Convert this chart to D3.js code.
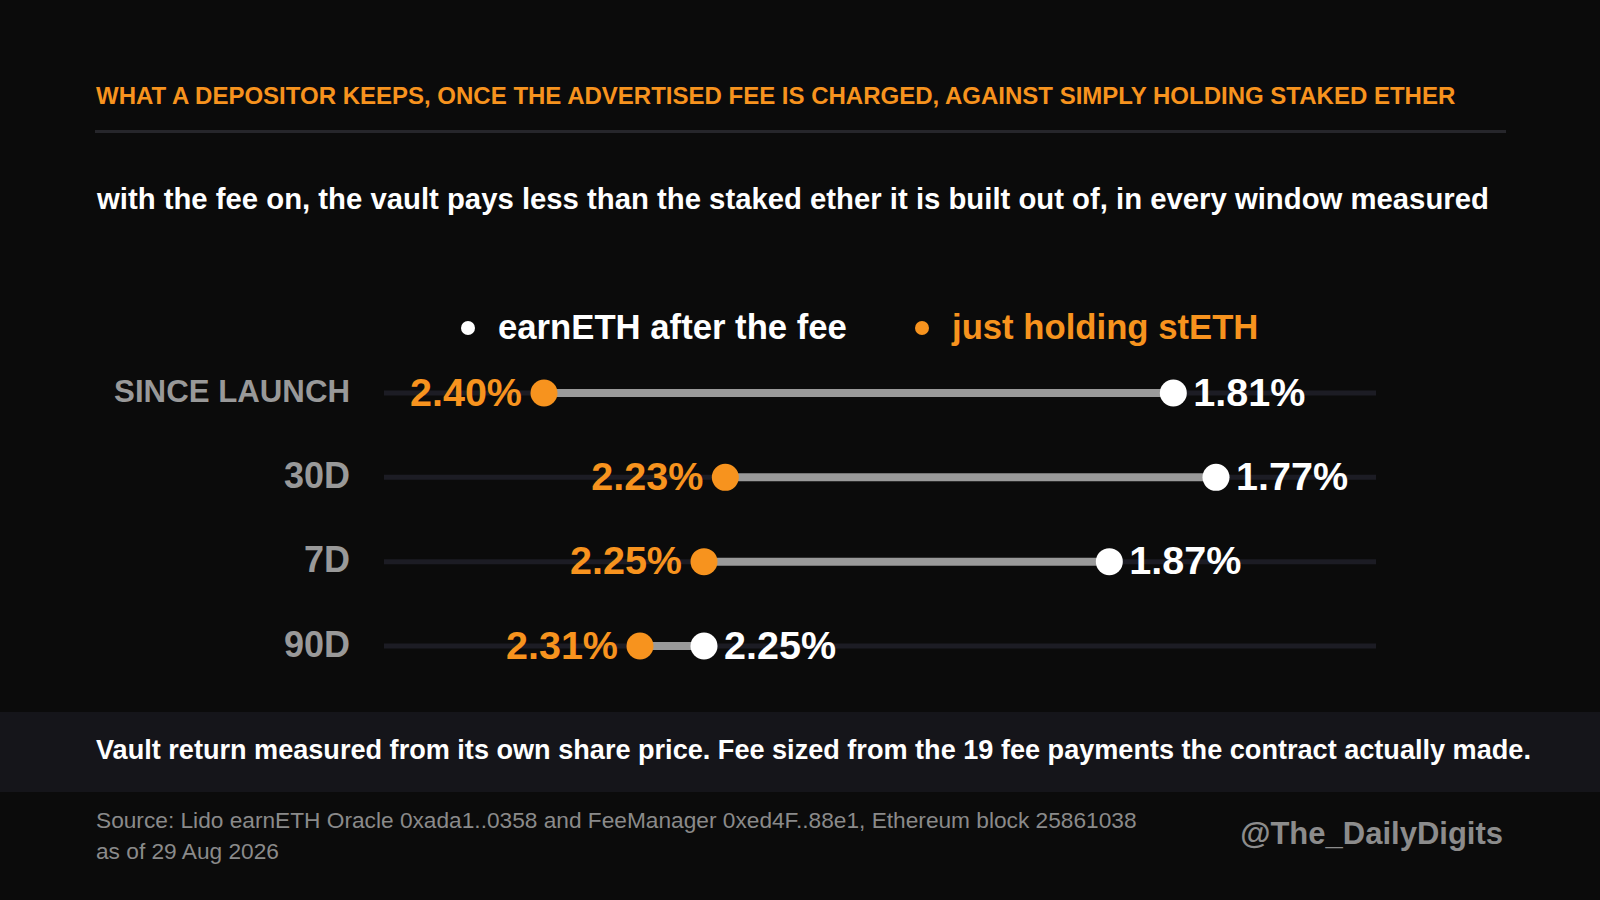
<!DOCTYPE html>
<html lang="en">
<head>
<meta charset="utf-8">
<script src="https://cdn.jsdelivr.net/npm/d3@7"></script>
<style>
body{margin:0;background:#0b0b0b;}
svg{display:block;}
text{font-family:"Liberation Sans",Arial,sans-serif;}
</style>
</head>
<body>
<div id="chart"></div>
<script>
// data
const windows=["SINCE LAUNCH","30D","7D","90D"]
const vaultAfterFee=[1.81,1.77,1.87,2.25]
const holdStETH=[2.40,2.23,2.25,2.31]
const seriesNames=["earnETH after the fee","just holding stETH"]

const W=1600,H=900
const orange="#f7931e",white="#ffffff",grey="#999999"

const rows=windows.map((w,i)=>({name:w,vault:vaultAfterFee[i],hold:holdStETH[i]}))
const lo=d3.min(vaultAfterFee),hi=d3.max(holdStETH)

svg=d3.select("#chart").append("svg").attr("width",W).attr("height",H)
svg.append("rect").attr("width",W).attr("height",H).attr("fill","#0b0b0b")

// header
svg.append("text").attr("x",96).attr("y",104).text("WHAT A DEPOSITOR KEEPS, ONCE THE ADVERTISED FEE IS CHARGED, AGAINST SIMPLY HOLDING STAKED ETHER")
  .style("font-size","24px").style("font-weight","bold").style("fill",orange)
svg.append("rect").attr("x",95).attr("y",130).attr("width",1411).attr("height",3).attr("fill","#26262b")
svg.append("text").attr("x",97).attr("y",209).text("with the fee on, the vault pays less than the staked ether it is built out of, in every window measured")
  .style("font-size","29.3px").style("font-weight","bold").style("fill",white)

// scales (reversed: higher return on the left)
x=d3.scaleLinear().domain([hi+0.15,lo-0.15]).range([384,1376])
y=d3.scalePoint().domain(windows).range([393,646])

// legend
lg=svg.append("g")
lg.append("circle").attr("cx",468).attr("cy",328).attr("r",7).attr("fill",white)
lg.append("text").attr("x",498).attr("y",339).text(seriesNames[0]).style("font-size","34.7px").style("font-weight","bold").style("fill",white)
lg.append("circle").attr("cx",922).attr("cy",328).attr("r",7).attr("fill",orange)
lg.append("text").attr("x",952).attr("y",339).text(seriesNames[1]).style("font-size","34.7px").style("font-weight","bold").style("fill",orange)

// rows
g=svg.append("g")
r=g.selectAll("g.row").data(rows).enter().append("g").attr("class","row").attr("transform",d=>"translate(0,"+y(d.name)+")")
r.append("line").attr("x1",x.range()[0]).attr("x2",x.range()[1]).attr("stroke","#1c1c24").attr("stroke-width",5)
r.append("line").attr("x1",d=>x(d.hold)).attr("x2",d=>x(d.vault)).attr("stroke","#9a9a9a").attr("stroke-width",8)
r.append("text").attr("x",350).attr("dy","0.3em").attr("text-anchor","end").text(d=>d.name)
  .style("font-size","36px").style("font-weight","bold").style("fill",grey)
  .each(function(){let len=this.getComputedTextLength();if(len>236){d3.select(this).style("font-size",(36*236/len)+"px")}})
r.append("circle").attr("cx",d=>x(d.hold)).attr("r",13.5).attr("fill",orange)
r.append("circle").attr("cx",d=>x(d.vault)).attr("r",13.5).attr("fill",white)
r.append("text").attr("x",d=>x(d.hold)-22).attr("dy","0.32em").attr("text-anchor","end").text(d=>d.hold.toFixed(2)+"%")
  .style("font-size","39.5px").style("font-weight","bold").style("fill",orange)
r.append("text").attr("x",d=>x(d.vault)+20).attr("dy","0.32em").text(d=>d.vault.toFixed(2)+"%")
  .style("font-size","39.5px").style("font-weight","bold").style("fill",white)

// footer
svg.append("rect").attr("x",0).attr("y",712).attr("width",W).attr("height",80).attr("fill","#15151a")
svg.append("text").attr("x",96).attr("y",759).text("Vault return measured from its own share price. Fee sized from the 19 fee payments the contract actually made.")
  .style("font-size","27.1px").style("font-weight","bold").style("fill",white)
src=svg.append("text").style("font-size","22.7px").style("fill","#8a8a8a")
src.append("tspan").attr("x",96).attr("y",828).text("Source: Lido earnETH Oracle 0xada1..0358 and FeeManager 0xed4F..88e1, Ethereum block 25861038")
src.append("tspan").attr("x",96).attr("y",859).text("as of 29 Aug 2026")
svg.append("text").attr("x",1503).attr("y",844).attr("text-anchor","end").text("@The_DailyDigits")
  .style("font-size","31px").style("font-weight","bold").style("fill","#8c8c8c")
</script>
</body>
</html>
